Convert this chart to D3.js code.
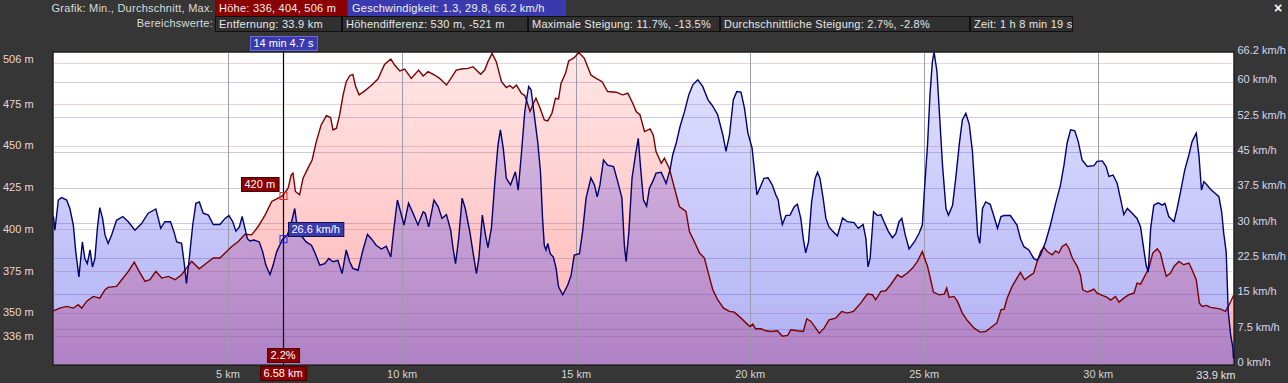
<!DOCTYPE html>
<html><head><meta charset="utf-8">
<script src="https://cdn.jsdelivr.net/npm/d3@7/dist/d3.min.js"></script>
<style>
html,body{margin:0;padding:0;background:#363636;}
svg{display:block;font-family:"Liberation Sans",Arial,sans-serif;}
</style></head>
<body>
<svg id="chart" width="1288" height="383"></svg>
<script>
// ---------- DATA ----------
const elevDist = [0,0.18,0.38,0.57,0.71,0.81,0.95,1.14,1.33,1.48,1.57,1.81,1.96,2.15,2.32,2.46,2.63,2.77,2.94,3.11,3.30,3.49,3.68,3.82,3.97,4.19,4.40,4.59,4.78,4.93,5.12,5.31,5.50,5.69,5.88,6.08,6.27,6.41,6.58,6.74,6.83,6.88,6.95,7.07,7.17,7.31,7.43,7.55,7.69,7.84,7.96,8.03,8.13,8.22,8.32,8.41,8.51,8.60,8.68,8.78,8.94,9.13,9.32,9.51,9.69,9.80,9.95,10.09,10.28,10.49,10.62,10.76,10.95,11.09,11.29,11.45,11.57,11.72,11.91,12.05,12.27,12.39,12.48,12.60,12.72,12.87,13.01,13.11,13.20,13.30,13.44,13.54,13.60,13.69,13.79,13.86,13.98,14.10,14.20,14.32,14.42,14.51,14.58,14.71,14.80,14.96,15.09,15.25,15.44,15.59,15.76,15.92,16.16,16.35,16.50,16.64,16.74,16.85,16.98,17.14,17.23,17.31,17.46,17.55,17.69,17.84,17.98,18.17,18.27,18.41,18.56,18.70,18.80,18.94,19.08,19.25,19.42,19.56,19.75,19.90,20.01,20.09,20.17,20.33,20.47,20.61,20.80,20.94,21.09,21.18,21.37,21.54,21.64,21.76,22.00,22.14,22.28,22.47,22.64,22.81,22.98,23.19,23.38,23.53,23.62,23.77,23.91,24.05,24.25,24.36,24.53,24.68,24.82,24.96,25.11,25.20,25.28,25.44,25.59,25.66,25.73,25.87,25.97,26.11,26.26,26.45,26.62,26.78,26.93,27.10,27.22,27.31,27.40,27.54,27.68,27.78,27.90,28.02,28.16,28.26,28.36,28.45,28.55,28.69,28.79,28.88,28.98,29.09,29.17,29.27,29.41,29.50,29.57,29.70,29.79,29.89,29.98,30.13,30.27,30.37,30.51,30.61,30.75,30.89,31.04,31.13,31.23,31.32,31.47,31.58,31.71,31.80,31.88,31.97,32.09,32.19,32.33,32.47,32.62,32.71,32.83,32.92,33.00,33.12,33.24,33.38,33.53,33.67,33.75,33.82,33.90];
const elevation = [351.2,352.8,353.8,352.8,354.8,352.8,356.8,359.8,358.8,363.8,365.2,365.8,369.8,374.8,380.4,374.8,368.8,369.8,374.8,370.8,371.8,369.8,372.8,376.8,380.8,376.4,379.8,382.8,382.8,385.8,389.7,392.7,397.1,396.7,401.7,408.7,416.7,418.3,420,424.7,432.7,433.7,422.7,420.7,430.7,436.7,441.6,452.6,462.6,468.2,467.0,459.6,460.6,468.6,480.6,488.5,492.1,492.9,485.6,480.6,483.0,486.2,490.1,498.9,502.1,498.5,494.9,496.1,490.5,495.5,491.9,494.5,492.5,490.5,486.5,491.5,495.5,496.1,496.5,497.5,492.9,495.5,500.5,505.5,500.5,488.5,485.0,486.2,484.6,486.5,481.6,480.2,476.6,470.6,475.6,478.6,472.6,465.6,465.0,469.6,478.6,478.2,487.5,493.5,500.9,502.9,506,502.5,492.5,490.5,488.5,482.6,482.2,480.6,481.6,475.6,470.6,468.6,458.6,460.2,456.6,446.6,439.6,442.6,436.6,424.7,413.7,410.7,398.7,392.7,385.8,382.8,374.8,363.8,357.8,352.8,350.8,350.4,346.8,343.8,341.8,343.2,340.4,340.4,339.2,338.8,339.2,336,336.4,339.8,339.2,338.8,346.4,344.8,337.8,340.8,345.8,346.8,350.8,349.8,350.8,355.8,361.2,360.8,357.8,362.8,363.2,366.8,372.8,371.2,373.8,376.8,380.8,386.7,377.8,369.8,362.4,360.8,361.2,364.8,359.2,359.8,356.8,349.8,345.2,340.8,338.4,338.8,341.2,343.8,351.8,352.2,358.8,365.8,370.8,374.2,369.8,371.8,373.8,380.8,386.7,389.3,386.7,384.8,387.1,385.8,389.7,391.3,388.7,382.8,377.8,372.8,363.8,362.4,363.2,364.2,361.8,360.4,359.2,357.6,359.8,356.4,358.8,360.8,361.8,367.8,367.2,370.8,376.8,385.8,388.3,385.8,378.8,371.8,373.8,377.8,380.8,378.8,379.8,375.8,369.8,355.8,353.8,354.4,353.2,352.8,352.2,350.8,353.8,356.8,360.4];

const speedDist = [0,0.04,0.14,0.23,0.38,0.47,0.57,0.64,0.73,0.83,0.90,0.97,1.05,1.12,1.19,1.26,1.33,1.41,1.48,1.57,1.67,1.81,1.99,2.15,2.34,2.53,2.72,2.94,3.01,3.08,3.20,3.36,3.46,3.54,3.68,3.75,3.82,3.90,4.00,4.09,4.19,4.30,4.45,4.59,4.78,4.93,5.04,5.15,5.24,5.34,5.42,5.50,5.57,5.64,5.76,5.91,6.01,6.10,6.22,6.31,6.41,6.58,6.72,6.85,6.93,7.00,7.14,7.26,7.41,7.50,7.65,7.79,7.91,8.03,8.17,8.29,8.41,8.51,8.60,8.75,8.89,9.02,9.13,9.27,9.42,9.56,9.69,9.78,9.88,9.97,10.07,10.20,10.33,10.47,10.62,10.68,10.78,10.93,11.05,11.16,11.29,11.41,11.48,11.55,11.64,11.74,11.83,11.96,12.05,12.15,12.22,12.32,12.41,12.48,12.58,12.68,12.77,12.84,12.92,13.01,13.13,13.20,13.27,13.35,13.44,13.54,13.65,13.72,13.81,13.91,13.99,14.05,14.10,14.15,14.20,14.27,14.36,14.44,14.51,14.63,14.77,14.87,14.96,15.11,15.20,15.30,15.44,15.54,15.62,15.70,15.80,15.92,16.09,16.21,16.33,16.40,16.45,16.53,16.62,16.72,16.80,16.86,16.95,17.04,17.12,17.22,17.31,17.46,17.60,17.71,17.79,17.89,18.00,18.13,18.25,18.37,18.51,18.65,18.80,18.94,19.08,19.23,19.32,19.42,19.53,19.63,19.75,19.85,19.95,20.07,20.14,20.21,20.33,20.41,20.53,20.65,20.75,20.82,20.87,20.94,21.04,21.16,21.28,21.37,21.47,21.54,21.61,21.69,21.78,21.88,21.95,22.02,22.11,22.19,22.28,22.38,22.52,22.67,22.81,23.00,23.12,23.26,23.34,23.40,23.46,23.56,23.67,23.77,23.86,23.98,24.10,24.20,24.29,24.37,24.47,24.58,24.73,24.87,24.96,25.03,25.11,25.18,25.25,25.30,25.38,25.46,25.54,25.64,25.71,25.83,25.92,26.02,26.11,26.21,26.31,26.40,26.48,26.55,26.61,26.69,26.78,26.91,27.02,27.12,27.22,27.31,27.49,27.68,27.78,27.88,28.02,28.16,28.26,28.36,28.50,28.64,28.79,28.93,29.03,29.12,29.22,29.34,29.44,29.55,29.70,29.89,29.98,30.13,30.24,30.32,30.44,30.56,30.65,30.75,30.85,30.99,31.13,31.23,31.32,31.39,31.45,31.52,31.61,31.74,31.85,31.93,32.04,32.19,32.28,32.38,32.50,32.62,32.71,32.83,32.91,32.98,33.05,33.14,33.24,33.38,33.48,33.56,33.62,33.69,33.75,33.82,33.88,33.90];
const speed = [31.4,28.5,34.9,35.4,34.9,33.1,29.6,23.9,18.6,26.0,22.5,21.4,24.3,20.7,22.5,28.9,33.3,31.0,27.5,25.7,27.5,30.6,31.4,30.3,28.5,29.9,32.1,33.0,31.0,28.9,30.3,30.3,28.2,26.0,25.7,21.8,17.2,22.5,29.6,34.2,34.5,32.1,31.7,29.7,29.7,31.0,31.6,30.3,28.3,29.2,31.4,28.9,26.7,26.2,26.4,26.0,23.9,21.1,19.1,21.1,23.9,26.6,27.5,30.6,33.1,29.2,27.1,26.0,25.3,23.9,21.1,21.4,22.5,21.8,22.1,19.3,24.3,21.8,20.4,20.0,24.3,27.6,26.7,25.3,24.5,25.1,22.8,28.9,34.9,32.4,29.6,34.2,32.1,29.6,32.4,32.1,29.2,34.9,33.5,31.0,31.8,28.5,24.6,21.4,26.7,35.3,33.1,28.2,23.9,19.3,22.5,31.7,27.5,24.8,28.9,38.8,46.6,49.8,45.9,39.5,38.1,39.5,40.9,37.0,44.5,53.7,59.0,58.3,53.0,47.3,40.9,31.0,25.3,24.3,25.7,23.5,22.8,20.4,16.5,14.8,16.8,18.9,23.2,23.5,28.2,35.3,39.6,38.1,35.6,38.1,43.4,42.3,42.0,38.8,35.3,25.3,21.8,28.2,39.5,44.5,48.0,42.3,34.9,33.6,37.4,38.9,40.6,40.8,38.4,41.3,44.5,47.0,50.5,53.7,57.2,59.4,60.4,59.0,56.2,54.8,53.0,48.7,45.2,48.7,56.2,57.9,57.8,54.4,49.1,45.9,40.9,36.0,38.1,39.5,39.6,38.1,36.0,34.9,32.4,29.7,31.6,31.7,33.5,34.0,31.0,26.7,23.7,26.0,34.5,39.5,40.8,39.5,35.3,31.0,29.2,28.3,27.3,31.1,30.3,30.1,28.9,29.7,26.7,20.7,22.5,32.4,31.6,31.8,30.3,28.3,26.9,27.8,30.3,31.0,27.5,24.5,26.0,27.9,29.6,38.1,46.6,57.2,64.3,66.2,62.2,52.3,42.3,33.1,31.7,33.8,39.5,46.6,51.9,53.3,50.9,45.2,36.0,27.5,25.7,33.1,34.5,34.0,31.4,28.9,31.4,31.6,31.6,29.6,26.7,25.0,24.3,22.5,22.1,23.3,26.0,29.6,34.2,38.1,42.3,47.0,49.8,49.6,47.3,43.4,42.0,42.2,43.1,43.2,42.0,39.9,40.2,38.4,35.3,31.8,33.1,32.1,31.0,29.2,24.6,21.1,19.6,28.9,33.8,34.3,33.8,34.2,31.4,30.3,33.1,36.7,41.3,44.5,47.3,49.1,44.1,37.0,38.8,38.1,37.2,36.3,35.6,32.4,27.8,23.9,11.1,6.2,3.7,1.3];

const distTicks = [5,10,15,20,25,30];
const distEnd = 33.9;
const elevGridTicks = [500,475,450,425,400,375,350,336];
const elevLabelTicks = [506,475,450,425,400,375,350,336];
const speedTicks = [66.2,60,52.5,45,37.5,30,22.5,15,7.5,0];

const headerRow1Label = "Grafik: Min., Durchschnitt, Max.";
const headerRow1 = ["Höhe: 336, 404, 506 m", "Geschwindigkeit: 1.3, 29.8, 66.2 km/h"];
const headerRow2Label = "Bereichswerte:";
const headerRow2 = [
  "Entfernung: 33.9 km",
  "Höhendifferenz: 530 m, -521 m",
  "Maximale Steigung: 11.7%, -13.5%",
  "Durchschnittliche Steigung: 2.7%, -2.8%",
  "Zeit: 1 h 8 min 19 s"
];
// cursor readout
const cursorDist = 6.58, cursorElev = 420, cursorSpeed = 26.6, cursorGrade = "2.2%", cursorTime = "14 min 4.7 s";

// ---------- LAYOUT ----------
const L = 53.5, R = 1233.5, T = 52.5, B = 364.5;
const row1Widths = [132, 218];
const row2Widths = [126, 185, 191, 249, 102];
const svg = d3.select("#chart");
const x = d3.scaleLinear().domain([0, distEnd]).range([L, R]);
const yE = d3.scaleLinear().domain([319, 506]).range([B, T]);
const yS = d3.scaleLinear().domain([0, 66.2]).range([B, T]);

const defs = svg.append("defs");
function grad(id, stops){
  const g = defs.append("linearGradient").attr("id", id)
    .attr("gradientUnits","userSpaceOnUse").attr("x1",0).attr("x2",0).attr("y1",T).attr("y2",B);
  stops.forEach(s => g.append("stop").attr("offset", s[0]).attr("stop-color", s[1]).attr("stop-opacity", s[2]));
}
grad("gElev", [[0,"#ff4646",0.13],[1,"#ff4646",0.42]]);
grad("gSpeed", [[0,"#4646ff",0.15],[1,"#4040e0",0.42]]);

svg.append("rect").attr("width",1288).attr("height",383).attr("fill","#363636");
svg.append("rect").attr("x",L).attr("y",T).attr("width",R-L).attr("height",B-T).attr("fill","#ffffff");

// gridlines
const grid = svg.append("g");
grid.selectAll("line.ge").data(elevGridTicks).join("line")
  .attr("x1",L).attr("x2",R).attr("y1",d=>Math.round(yE(d))+0.5).attr("y2",d=>Math.round(yE(d))+0.5)
  .attr("stroke","#ecd2d2").attr("stroke-width",1);
grid.selectAll("line.gs").data(speedTicks.filter(d=>d>0 && d<66)).join("line")
  .attr("x1",L).attr("x2",R).attr("y1",d=>Math.round(yS(d))+0.5).attr("y2",d=>Math.round(yS(d))+0.5)
  .attr("stroke","#cacae6").attr("stroke-width",1);

const elevPts = elevDist.map((d,i)=>[d, elevation[i]]);
const speedPts = speedDist.map((d,i)=>[d, speed[i]]);

const areaE = d3.area().x(d=>x(d[0])).y0(B).y1(d=>yE(d[1]));
const areaS = d3.area().x(d=>x(d[0])).y0(B).y1(d=>yS(d[1]));
const lineE = d3.line().x(d=>x(d[0])).y(d=>yE(d[1]));
const lineS = d3.line().x(d=>x(d[0])).y(d=>yS(d[1]));

svg.append("path").datum(elevPts).attr("d",areaE).attr("fill","url(#gElev)");
svg.append("path").datum(speedPts).attr("d",areaS).attr("fill","url(#gSpeed)");

svg.append("g").selectAll("line").data(distTicks).join("line")
  .attr("x1",d=>Math.round(x(d))+0.5).attr("x2",d=>Math.round(x(d))+0.5).attr("y1",T).attr("y2",B)
  .attr("stroke","#9a9aa8").attr("stroke-width",1);

svg.append("path").datum(elevPts).attr("d",lineE).attr("fill","none").attr("stroke","#7a0000").attr("stroke-width",1.4);
svg.append("path").datum(speedPts).attr("d",lineS).attr("fill","none").attr("stroke","#00006e").attr("stroke-width",1.4);

svg.append("rect").attr("x",L-0.5).attr("y",T-0.5).attr("width",R-L+1).attr("height",B-T+1)
  .attr("fill","none").attr("stroke","#111").attr("stroke-width",1);

// ---------- AXES ----------
const fontSize = 11;
const xAxis = d3.axisBottom(x).tickValues(distTicks).tickSize(0).tickFormat(d=>d+" km");
const gx = svg.append("g").attr("transform",`translate(0,${B+3})`).call(xAxis);
gx.select(".domain").remove();
gx.selectAll("text").attr("fill","#d4d4d4").attr("font-size",fontSize).attr("font-family","Liberation Sans, Arial, sans-serif");
svg.append("text").attr("x",R+2).attr("y",B+14).attr("text-anchor","end").attr("fill","#e4e4e4")
  .attr("font-size",fontSize).text(distEnd+" km");

const yLeft = d3.axisLeft(yE).tickValues(elevLabelTicks).tickSize(0).tickFormat(d=>d+" m");
const gl = svg.append("g").call(yLeft);
gl.select(".domain").remove();
gl.selectAll(".tick").attr("transform", d => `translate(0,${Math.max(yE(d), 59)})`);
gl.selectAll("text").attr("x",3).attr("text-anchor","start").attr("fill","#eed4d4")
  .attr("font-size",fontSize).attr("font-family","Liberation Sans, Arial, sans-serif");

const yRight = d3.axisRight(yS).tickValues(speedTicks).tickSize(0).tickFormat(d=>d+" km/h");
const gr = svg.append("g").attr("transform",`translate(${R+3},0)`).call(yRight);
gr.select(".domain").remove();
gr.selectAll(".tick").attr("transform", d => `translate(0,${Math.max(yS(d)-2, 50)})`);
gr.selectAll("text").attr("x",1).attr("fill","#d6d6f0").attr("font-size",fontSize)
  .attr("font-family","Liberation Sans, Arial, sans-serif");

// ---------- HEADER ----------
const hdr = svg.append("g").attr("font-size",fontSize).attr("letter-spacing","0.25");
hdr.append("text").attr("x",213).attr("y",12).attr("text-anchor","end").attr("fill","#dcdcdc").text(headerRow1Label);
hdr.append("text").attr("x",213).attr("y",27).attr("text-anchor","end").attr("fill","#dcdcdc").text(headerRow2Label);

(function(){
  let bx = 215;
  const fills = ["#8a0000", "#3a3aae"];
  headerRow1.forEach((txt,i)=>{
    const w = row1Widths[i];
    hdr.append("rect").attr("x",bx).attr("y",0).attr("width",w).attr("height",16).attr("fill",fills[i]);
    hdr.append("text").attr("x",bx+4).attr("y",12).attr("fill","#f2f2f2").text(txt);
    bx += w + 1;
  });
  bx = 215;
  headerRow2.forEach((txt,i)=>{
    const w = row2Widths[i];
    hdr.append("rect").attr("x",bx+0.5).attr("y",16.5).attr("width",w).attr("height",15).attr("fill","#303030").attr("stroke","#101010");
    hdr.append("text").attr("x",bx+4).attr("y",28).attr("fill","#e8e8e8").text(txt);
    bx += w + 1;
  });
})();
svg.append("text").attr("x",1278).attr("y",13).attr("text-anchor","middle").attr("fill","#ffffff")
  .attr("font-weight","bold").attr("font-size",14).text("×");

// ---------- CURSOR ----------
const cx = Math.round(x(cursorDist))+0.5;
svg.append("line").attr("x1",cx).attr("x2",cx).attr("y1",T-2).attr("y2",B).attr("stroke","#000").attr("stroke-width",1.2);

function label(txt, anchorX, align, yTop, fill, stroke){
  const g = svg.append("g").attr("font-size",fontSize);
  const r = g.append("rect");
  const t = g.append("text").attr("fill","#ffffff").attr("y",yTop+11).text(txt);
  const w = t.node().getComputedTextLength() + 7;
  let x0 = align==="middle" ? anchorX - w/2 : align==="end" ? anchorX - w : anchorX;
  x0 = Math.round(x0);
  t.attr("x", x0+3.5);
  r.attr("x",x0+0.5).attr("y",yTop+0.5).attr("width",w).attr("height",14).attr("fill",fill).attr("stroke",stroke);
}
label(cursorTime, cx, "middle", 36, "#3a3aae", "#6a6ad8");
label(cursorElev+" m", cx-5, "end", 177, "#8a0000", "#4a0000");
label(cursorSpeed+" km/h", cx+4, "start", 222, "#3a3aae", "#101050");
label(cursorGrade, cx, "middle", 348, "#8a0000", "#4a0000");
label(cursorDist+" km", cx, "middle", 366, "#8a0000", "#4a0000");

const py = yE(cursorElev), ps = yS(cursorSpeed);
svg.append("rect").attr("x",cx-3.5).attr("y",py-3.5).attr("width",7).attr("height",7).attr("fill","none").attr("stroke","#ff2020").attr("stroke-width",1);
svg.append("rect").attr("x",cx-3.5).attr("y",ps-3.5).attr("width",7).attr("height",7).attr("fill","none").attr("stroke","#2020ff").attr("stroke-width",1);
</script>
</body></html>
